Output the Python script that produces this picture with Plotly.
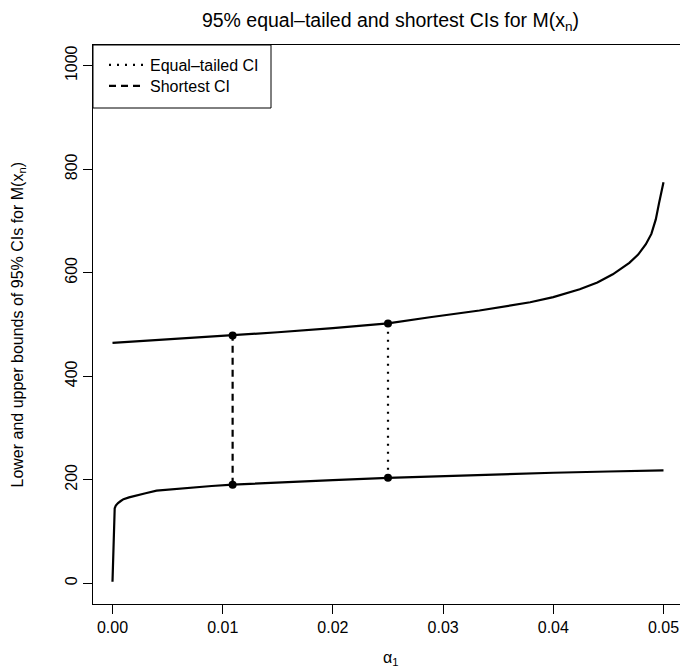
import plotly.graph_objects as go

# ---- data ----
alpha_upper = [0.0, 0.005, 0.0109, 0.015, 0.02, 0.025, 0.0288, 0.0333, 0.0379,
               0.040, 0.0424, 0.044, 0.0454, 0.0469, 0.0477, 0.0484, 0.0489,
               0.0493, 0.0496, 0.0498, 0.05]
upper = [464.5, 471, 478.6, 485, 493, 502, 514, 527, 543,
         553, 568, 581, 597, 619, 635, 655, 675,
         703, 735, 757, 775]

alpha_lower = [0.0, 0.0001, 0.0002, 0.0003, 0.0005, 0.00075, 0.001, 0.0015, 0.002,
               0.003, 0.004, 0.0055, 0.007, 0.009, 0.0109, 0.015, 0.02, 0.025,
               0.03, 0.035, 0.04, 0.045, 0.05]
lower = [3, 110, 145, 150, 155, 159, 162.5, 166, 169,
         174, 179, 182, 185, 188, 190.5, 195, 199.5, 203.8,
         207.5, 210.8, 213.6, 216, 218]

eq_alpha = 0.025
eq_lower, eq_upper = 203.8, 502.0
sh_alpha = 0.0109
sh_lower, sh_upper = 190.5, 478.6

x_ticks = [0.0, 0.01, 0.02, 0.03, 0.04, 0.05]
x_tick_labels = ["0.00", "0.01", "0.02", "0.03", "0.04", "0.05"]
y_ticks = [0, 200, 400, 600, 800, 1000]
y_tick_labels = ["0", "200", "400", "600", "800", "1000"]

FONT = "Liberation Sans, Arial, Helvetica, sans-serif"

# pixel layout helpers (plot area: x 93..680, y 45..604)
W, H = 680, 670
L, R, T, B = 93, 680, 45, 604
PW, PH = R - L, B - T


def px(xp):
    return (xp - L) / PW


def py(yp):
    return 1 - (yp - T) / PH


fig = go.Figure()
fig.add_trace(go.Scatter(x=alpha_upper, y=upper, mode="lines",
                         line=dict(color="black", width=2.2), showlegend=False,
                         hoverinfo="skip"))
fig.add_trace(go.Scatter(x=alpha_lower, y=lower, mode="lines",
                         line=dict(color="black", width=2.2), showlegend=False,
                         hoverinfo="skip"))
fig.add_trace(go.Scatter(x=[eq_alpha, eq_alpha], y=[eq_lower, eq_upper], mode="lines",
                         name="Equal\u2013tailed CI", legend="legend",
                         line=dict(color="black", width=2.2, dash="2px,6px")))
fig.add_trace(go.Scatter(x=[sh_alpha, sh_alpha], y=[sh_lower, sh_upper], mode="lines",
                         name="Shortest CI", legend="legend2",
                         line=dict(color="black", width=2.2, dash="7px,5px")))
fig.add_trace(go.Scatter(x=[sh_alpha, sh_alpha, eq_alpha, eq_alpha],
                         y=[sh_lower, sh_upper, eq_lower, eq_upper], mode="markers",
                         marker=dict(color="black", size=8), showlegend=False))

leg_common = dict(xanchor="left", yanchor="middle", bgcolor="rgba(0,0,0,0)",
                  borderwidth=0, itemwidth=36, font=dict(size=16, family=FONT))

fig.update_layout(
    width=W, height=H,
    margin=dict(l=L, r=W - R, t=T, b=H - B, autoexpand=False),
    paper_bgcolor="white", plot_bgcolor="white",
    font=dict(family=FONT, size=16, color="black"),
    hovermode=False, dragmode=False,
    title=dict(text="95% equal\u2013tailed and shortest CIs for M(x<sub>n</sub>)",
               font=dict(size=19.5, family=FONT, color="black"),
               x=px(390.5), xref="paper", xanchor="center",
               y=1 - 20 / H, yref="container", yanchor="middle"),
    xaxis=dict(range=[(L - 112.5) / 11020, (R - 112.5) / 11020],
               tickvals=x_ticks, ticktext=x_tick_labels, automargin=False,
               ticks="outside", ticklen=9, tickwidth=1, tickcolor="black",
               showline=True, linecolor="black", linewidth=1, mirror=True,
               showgrid=False, zeroline=False, tickfont=dict(size=16)),
    yaxis=dict(range=[-40, 1040], automargin=False,
               tickvals=y_ticks, ticktext=y_tick_labels, tickangle=-90,
               ticks="outside", ticklen=9, tickwidth=1, tickcolor="black",
               showline=True, linecolor="black", linewidth=1, mirror=False,
               showgrid=False, zeroline=False, tickfont=dict(size=16)),
    legend=dict(x=px(104), y=py(65), **leg_common),
    legend2=dict(x=px(104), y=py(86), **leg_common),
    shapes=[
        dict(type="rect", xref="paper", yref="paper",
             x0=0, x1=px(271), y0=py(108), y1=1,
             line=dict(color="black", width=1), layer="above"),
        # white strip at the window's right edge (the reference box continues past it)
        dict(type="rect", xref="paper", yref="paper",
             x0=px(678.6), x1=1.02, y0=py(B - 1), y1=py(T + 1),
             fillcolor="white", line=dict(width=0), layer="above"),
    ],
    annotations=[
        dict(text="\u03b1<sub>1</sub>", xref="paper", yref="paper",
             x=px(390.5), y=py(658), xanchor="center", yanchor="middle",
             showarrow=False, font=dict(size=16, family=FONT)),
        dict(text="Lower and upper bounds of 95% CIs for M(x<sub>n</sub>)",
             xref="paper", yref="paper", x=px(18), y=0.5, textangle=-90,
             xanchor="center", yanchor="middle", showarrow=False,
             font=dict(size=16, family=FONT)),
    ],
)

fig.write_html("out.html",
               config={"displayModeBar": False, "staticPlot": True},
               post_script="document.body.style.margin='0';document.body.style.padding='0';"
                           "document.body.style.overflow='hidden';")
